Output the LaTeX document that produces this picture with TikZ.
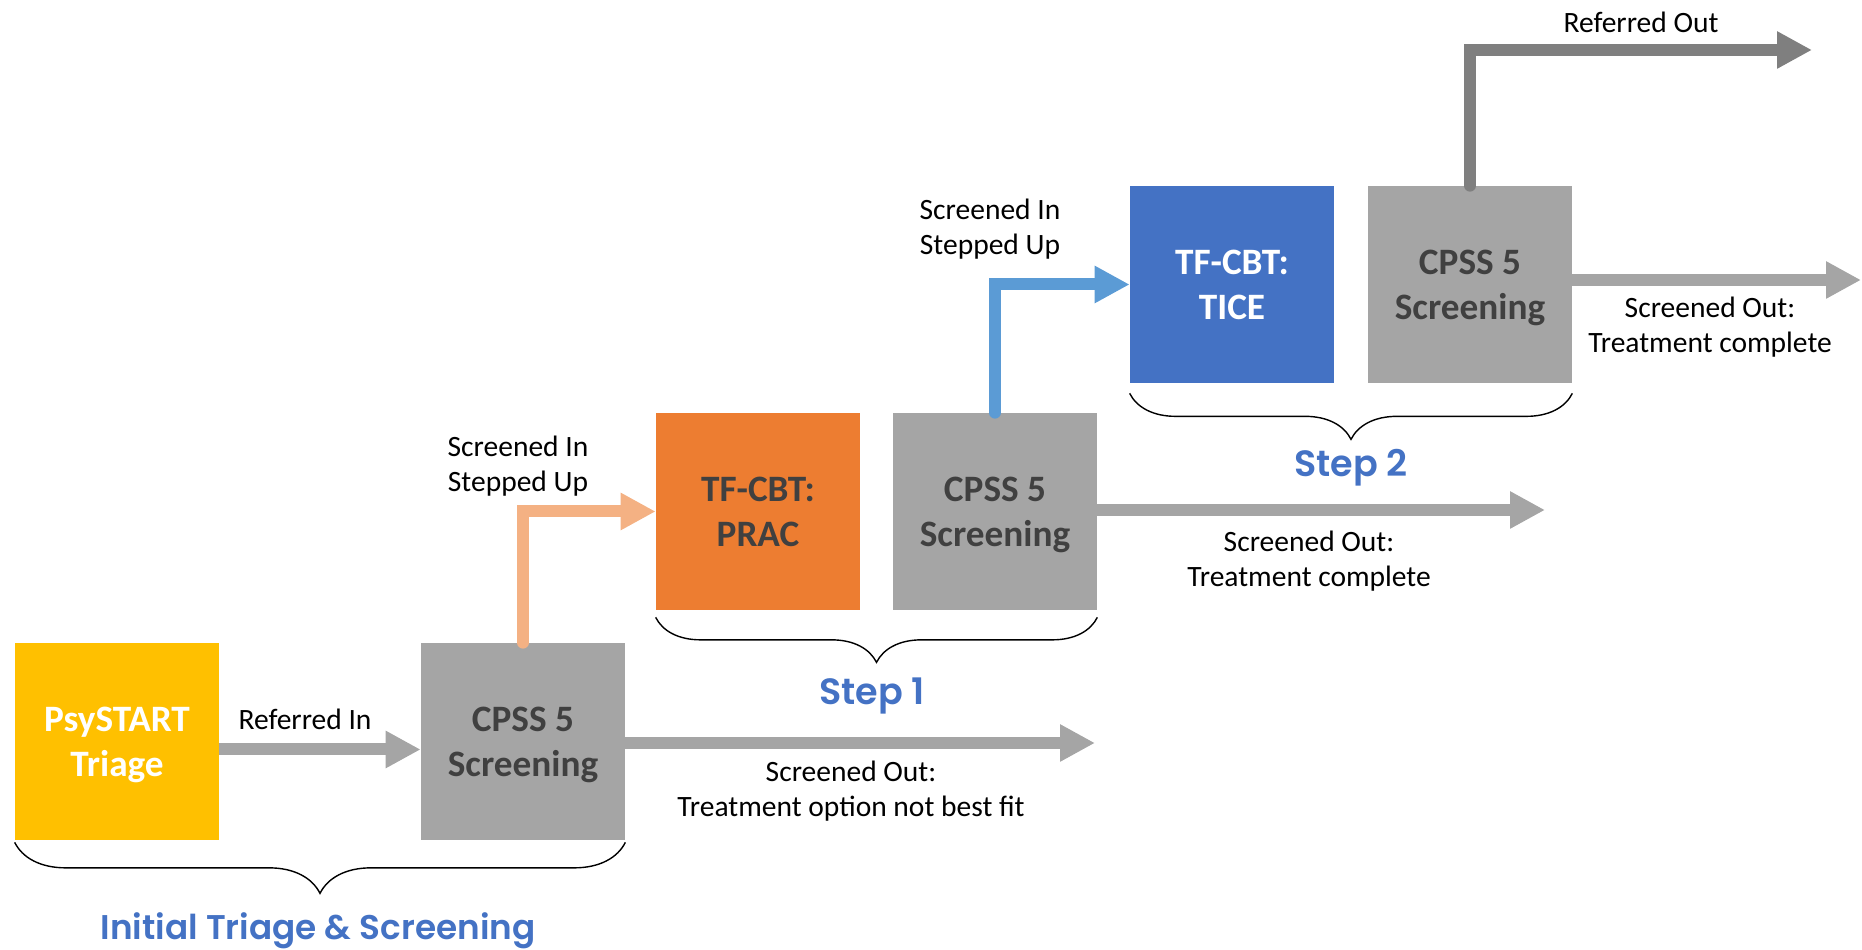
\documentclass[tikz,border=0pt]{standalone}
\usepackage{fontspec}
\setmainfont{Carlito}
\newfontfamily\stepfont{Poppins}[BoldFont={Poppins SemiBold}]
\usetikzlibrary{arrows.meta,decorations.pathreplacing}

\definecolor{psyyellow}{HTML}{FFC000}
\definecolor{pracorange}{HTML}{ED7D31}
\definecolor{ticeblue}{HTML}{4472C4}
\definecolor{screengray}{HTML}{A5A5A5}
\definecolor{refgray}{HTML}{7F7F7F}
\definecolor{stepupA}{HTML}{F4B183}
\definecolor{stepupB}{HTML}{5B9BD5}
\definecolor{boxtext}{HTML}{404040}
\definecolor{stepblue}{HTML}{4472C4}

\begin{document}
\begin{tikzpicture}[
  box/.style={inner sep=0,minimum width=4.08cm,minimum height=3.94cm,align=center,
    text height=1.40cm,text depth=0pt,
    font=\fontsize{21.2}{25.6}\selectfont\bfseries,text=boxtext},
  flow/.style={line width=0.24cm,-{Triangle[width=0.7cm,length=0.7cm]}},
  note/.style={align=center,font=\fontsize{16.8}{20}\selectfont},
  stage/.style={anchor=base,font=\stepfont\fontsize{20.8}{25}\selectfont\bfseries,text=stepblue},
  curly/.style={decorate,decoration={brace,mirror,amplitude=#1},line width=0.8pt}
]
  \useasboundingbox (0,0) rectangle (37.24,19);

  \node[box,fill=psyyellow,text=white] (psy) at (2.34,4.17) {PsySTART\\Triage};
  \node[box,fill=screengray] (cpssA) at (10.46,4.17) {CPSS 5\\Screening};
  \node[box,fill=pracorange] (prac) at (15.16,8.77) {TF-CBT:\\PRAC};
  \node[box,fill=screengray] (cpssB) at (19.90,8.77) {CPSS 5\\Screening};
  \node[box,fill=ticeblue,text=white] (tice) at (24.64,13.31) {TF-CBT:\\TICE};
  \node[box,fill=screengray] (cpssC) at (29.40,13.31) {CPSS 5\\Screening};

  \coordinate (endA) at (21.90,4.14);
  \coordinate (endB) at (30.90,8.80);
  \coordinate (endC) at (37.22,13.40);
  \coordinate (endD) at (36.24,18.00);

  \draw[flow,screengray] ([yshift=-0.16cm]psy.east) -- ([yshift=-0.16cm]cpssA.west);
  \draw[flow,screengray] (cpssA.east |- endA) -- (endA);
  \draw[flow,stepupA,line cap=round] (cpssA.north) |- (prac.west);
  \draw[flow,screengray] (cpssB.east |- endB) -- (endB);
  \draw[flow,stepupB,line cap=round] (cpssB.north) |- (tice.west);
  \draw[flow,screengray] (cpssC.east |- endC) -- (endC);
  \draw[flow,refgray,line cap=round] (cpssC.north) |- (endD);

  \node[note] (refin) at (6.10,4.62) {Referred In};
  \node[note] (upA) at (10.36,9.68) {Screened In\\Stepped Up};
  \node[note] (upB) at (19.80,14.42) {Screened In\\Stepped Up};
  \node[note] (outA) at (17.02,3.18) {Screened Out:\\Treatment option not best fit};
  \node[note] (outB) at (26.18,7.78) {Screened Out:\\Treatment complete};
  \node[note] (outC) at (34.20,12.46) {Screened Out:\\Treatment complete};
  \node[note] (refout) at (32.82,18.56) {Referred Out};

  % brackets under each stage
  \draw[curly=1.02cm] ([yshift=-0.04cm]psy.south west) -- ([yshift=-0.04cm]cpssA.south east);
  \draw[curly=0.9cm] ([yshift=-0.14cm]prac.south west) -- ([yshift=-0.14cm]cpssB.south east);
  \draw[curly=0.92cm] ([yshift=-0.2cm]tice.south west) -- ([yshift=-0.2cm]cpssC.south east);

  \node[stage,font=\stepfont\fontsize{19.5}{24}\selectfont\bfseries] (stage0) at (6.36,0.20) {Initial Triage \& Screening};
  \node[stage] (stage1) at (17.44,4.90) {Step 1};
  \node[stage] (stage2) at (27.02,9.46) {Step 2};
\end{tikzpicture}
\end{document}
